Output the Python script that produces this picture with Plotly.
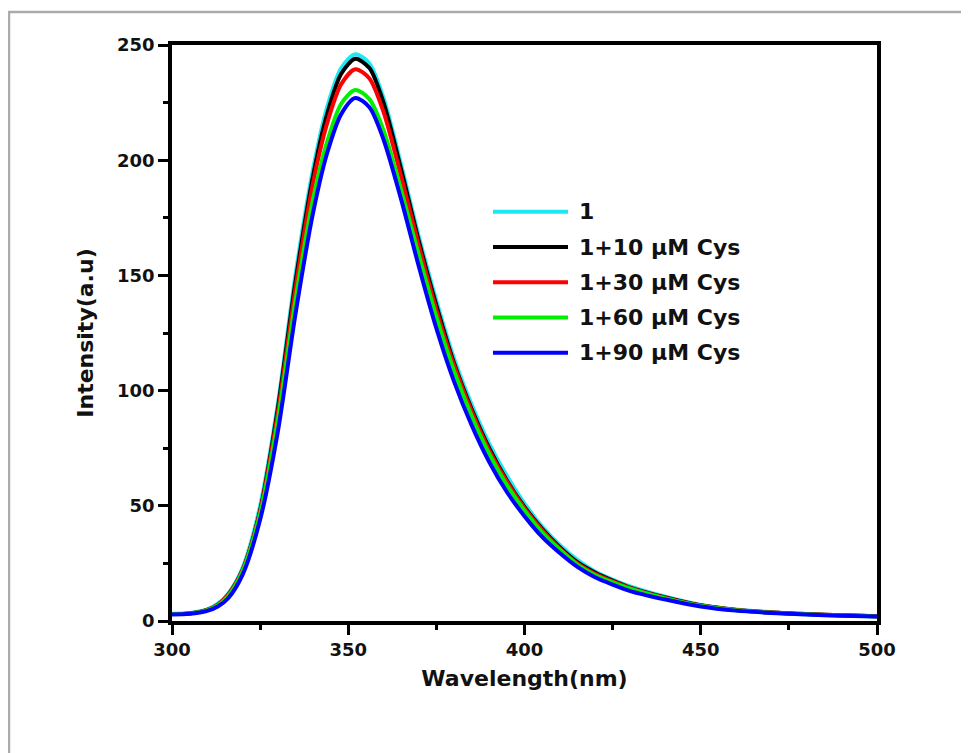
import plotly.graph_objects as go

# ---------------- data ----------------
wavelength = [300, 305, 310, 313, 316, 320, 325, 330, 335, 340, 344, 348, 352, 356,
              360, 365, 370, 375, 380, 385, 390, 395, 400, 405, 410, 415, 420, 425,
              430, 440, 450, 460, 470, 480, 490, 500]

i_1 = [3.2, 3.5, 5.0, 7.5, 12.0, 23.0, 50.0, 94.0, 150.0, 196.0, 223.0, 240.0, 246.0, 242.0,
       227.0, 198.0, 167.0, 139.0, 114.0, 94.0, 77.0, 63.0, 51.0, 41.0, 33.0, 26.5, 21.5, 18.0,
       15.0, 10.5, 7.0, 5.0, 3.8, 3.0, 2.5, 2.2]

i_10 = [3.0, 3.3, 4.8, 7.0, 11.5, 22.0, 48.0, 92.0, 147.0, 193.0, 220.0, 237.5, 244.0, 240.0,
        225.0, 196.0, 165.0, 137.0, 112.0, 92.0, 75.0, 61.0, 49.5, 40.0, 32.0, 25.5, 21.0, 17.5,
        14.5, 10.2, 6.8, 4.8, 3.7, 3.0, 2.5, 2.1]

i_30 = [3.0, 3.3, 4.8, 7.0, 11.5, 22.0, 47.5, 90.0, 144.0, 190.0, 216.0, 233.0, 239.5, 235.5,
        221.0, 193.0, 163.0, 135.0, 111.0, 91.0, 74.0, 60.5, 49.0, 39.5, 31.5, 25.0, 20.5, 17.2,
        14.3, 10.0, 6.7, 4.8, 3.7, 3.0, 2.5, 2.1]

i_60 = [3.0, 3.3, 4.7, 6.8, 11.0, 21.5, 46.5, 87.0, 139.0, 183.0, 208.0, 224.5, 230.5, 226.5,
        213.0, 187.0, 159.0, 132.0, 108.5, 89.0, 72.5, 59.0, 48.0, 38.5, 31.0, 24.5, 20.0, 16.8,
        14.0, 9.8, 6.6, 4.7, 3.6, 2.9, 2.4, 2.0]

i_90 = [2.8, 3.1, 4.4, 6.3, 10.0, 20.0, 44.0, 82.0, 133.0, 177.0, 203.0, 220.0, 227.0, 223.0,
        209.0, 183.0, 154.0, 127.0, 104.0, 85.0, 69.0, 56.0, 45.5, 36.5, 29.5, 23.5, 19.0, 15.8,
        13.0, 9.3, 6.3, 4.5, 3.5, 2.8, 2.3, 1.9]

series_names = ["1", "1+10 \u03bcM Cys", "1+30 \u03bcM Cys", "1+60 \u03bcM Cys", "1+90 \u03bcM Cys"]
series_values = [i_1, i_10, i_30, i_60, i_90]
series_colors = ["#1EE8F2", "#000000", "#FF0000", "#00F000", "#0000FF"]

x_ticks = [300, 350, 400, 450, 500]
y_ticks = [0, 50, 100, 150, 200, 250]

# ---------------- figure ----------------
FONT = "DejaVu Sans"
fig = go.Figure()
for name, vals, col in zip(series_names, series_values, series_colors):
    fig.add_trace(go.Scatter(x=wavelength, y=vals, mode="lines", name=name,
                             line=dict(color=col, width=4, shape="spline", smoothing=0.8),
                             showlegend=False))

axis_common = dict(
    showline=True, linewidth=3.5, linecolor="black", mirror=True,
    ticks="outside", ticklen=10, tickwidth=3, tickcolor="black",
    showgrid=False, zeroline=False,
    tickfont=dict(family=FONT, size=18, color="#111111", weight="bold"),
    minor=dict(ticks="outside", ticklen=5, tickwidth=3, tickcolor="black"),
)

fig.update_xaxes(range=[300, 500], tickvals=x_ticks, minor_dtick=25,
                 title=dict(text="Wavelength(nm)", standoff=12,
                            font=dict(family=FONT, size=22, color="#111111", weight="bold")),
                 **axis_common)
fig.update_yaxes(range=[0, 250], tickvals=y_ticks, minor_dtick=25,
                 title=dict(text="Intensity(a.u)", standoff=18,
                            font=dict(family=FONT, size=22, color="#111111", weight="bold")),
                 **axis_common)

# ---------------- custom legend (long thick line samples) ----------------
leg_x0, leg_x1, txt_x = 0.4553, 0.5617, 0.5745
leg_top, leg_step = 0.7105, 0.0612
shapes = []
annotations = []
for k, (name, col) in enumerate(zip(series_names, series_colors)):
    yk = leg_top - k * leg_step
    shapes.append(dict(type="line", xref="paper", yref="paper", x0=leg_x0, x1=leg_x1,
                       y0=yk, y1=yk, line=dict(color=col, width=4)))
    annotations.append(dict(xref="paper", yref="paper", x=txt_x, y=yk, text=name,
                            showarrow=False, xanchor="left", yanchor="middle",
                            font=dict(family=FONT, size=22, color="#111111", weight="bold")))

# grey outer frame
shapes.append(dict(type="rect", xref="paper", yref="paper", x0=-0.2312, x1=1.25,
                   y0=1.0573, y1=-0.35, line=dict(color="#ABABAB", width=2.5),
                   layer="below"))

fig.update_layout(
    width=969, height=753,
    margin=dict(l=164, r=100, t=37, b=140),
    paper_bgcolor="white", plot_bgcolor="white",
    shapes=shapes, annotations=annotations,
    showlegend=False,
)

fig.write_html("out.html")
